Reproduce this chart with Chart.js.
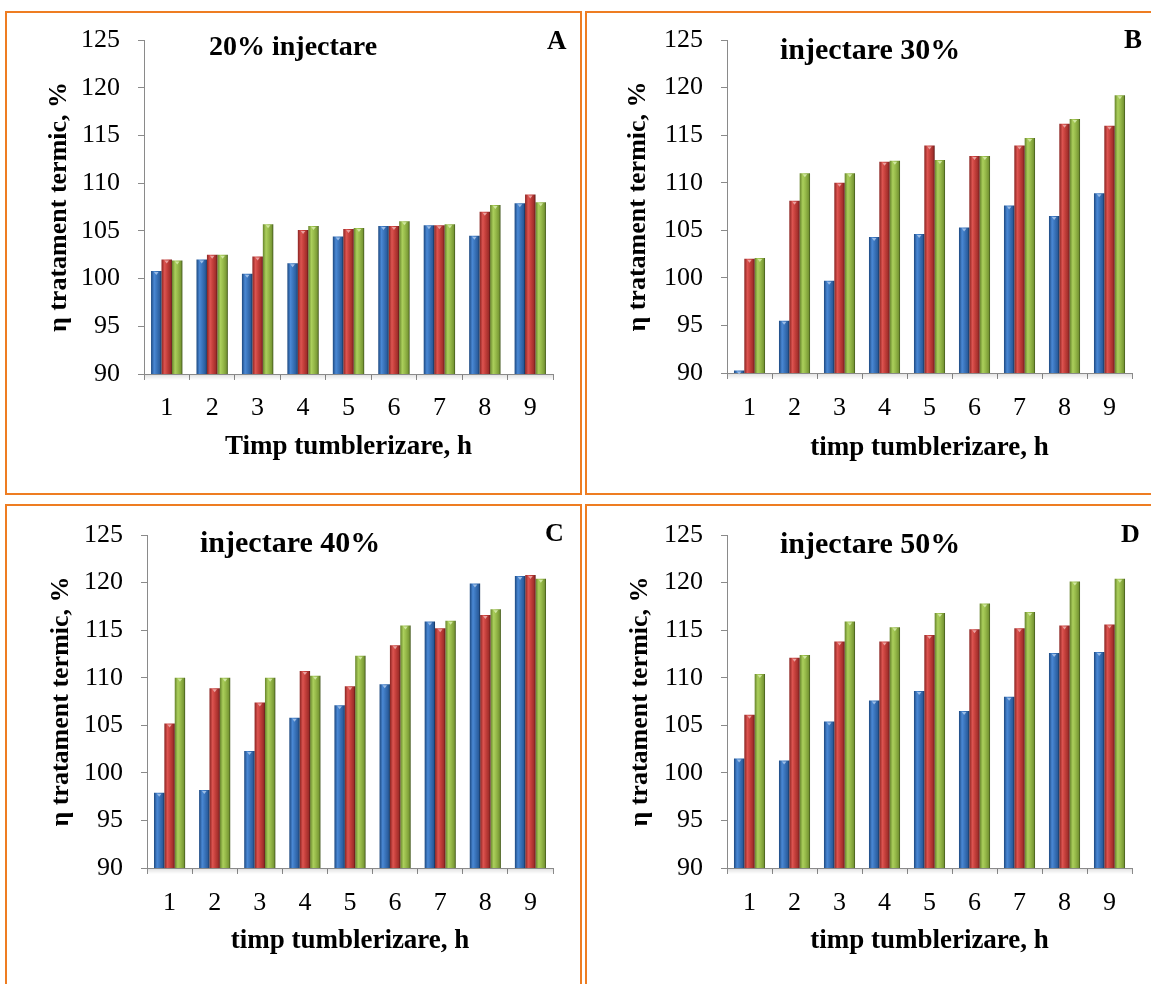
<!doctype html>
<html lang="ro">
<head>
<meta charset="utf-8">
<title>Randament tratament termic</title>
<script src="https://cdn.jsdelivr.net/npm/chart.js@4.4.0/dist/chart.umd.min.js"></script>
<style>
  html, body { margin: 0; padding: 0; background: #fff; overflow: hidden; }
  body { width: 1151px; height: 984px; position: relative; font-family: "Liberation Serif", serif; }
  .rama { position: absolute; border: 2px solid #ee7d22; box-sizing: border-box; }
  canvas { position: absolute; }
  .titlu { position: absolute; font-weight: bold; line-height: 1; white-space: nowrap; color: #000; }
</style>
</head>
<body>

<div class="rama" style="left:5px;top:11px;width:577px;height:484px"></div>
<div class="rama" style="left:585px;top:11px;width:600px;height:484px"></div>
<div class="rama" style="left:5px;top:504px;width:577px;height:520px"></div>
<div class="rama" style="left:585px;top:504px;width:600px;height:520px"></div>

<canvas id="g20"></canvas>
<canvas id="g30"></canvas>
<canvas id="g40"></canvas>
<canvas id="g50"></canvas>

<div class="titlu" style="left:209px;top:32px;font-size:28px">20% injectare</div>
<div class="titlu" style="left:547px;top:27px;font-size:27px">A</div>
<div class="titlu" style="left:780px;top:34px;font-size:30px">injectare 30%</div>
<div class="titlu" style="left:1124px;top:26px;font-size:27px">B</div>
<div class="titlu" style="left:200px;top:527px;font-size:30px">injectare 40%</div>
<div class="titlu" style="left:545px;top:520px;font-size:26px">C</div>
<div class="titlu" style="left:780px;top:528px;font-size:30px">injectare 50%</div>
<div class="titlu" style="left:1121px;top:521px;font-size:26px">D</div>

<script>
// ore de tumblerizare si valorile axei y
var ore = ['1', '2', '3', '4', '5', '6', '7', '8', '9'];
var valoriY = [90, 95, 100, 105, 110, 115, 120, 125];

// injectare 20%
var inj20_s1 = [100.8, 102.0, 100.5, 101.6, 104.4, 105.5, 105.6, 104.5, 107.9];
var inj20_s2 = [102.0, 102.5, 102.3, 105.1, 105.2, 105.5, 105.6, 107.0, 108.8];
var inj20_s3 = [101.9, 102.5, 105.7, 105.5, 105.3, 106.0, 105.7, 107.7, 108.0];

// injectare 30%
var inj30_s1 = [90.25, 95.5, 99.7, 104.3, 104.6, 105.3, 107.6, 106.5, 108.9];
var inj30_s2 = [102.0, 108.1, 110.0, 112.2, 113.9, 112.8, 113.9, 116.2, 116.0];
var inj30_s3 = [102.1, 111.0, 111.0, 112.3, 112.4, 112.8, 114.7, 116.7, 119.2];

// injectare 40%
var inj40_s1 = [97.9, 98.2, 102.3, 105.8, 107.1, 109.3, 115.9, 119.9, 120.7];
var inj40_s2 = [105.2, 108.9, 107.4, 110.7, 109.1, 113.4, 115.2, 116.6, 120.8];
var inj40_s3 = [110.0, 110.0, 110.0, 110.2, 112.3, 115.5, 116.0, 117.2, 120.4];

// injectare 50%
var inj50_s1 = [101.5, 101.3, 105.4, 107.6, 108.6, 106.5, 108.0, 112.6, 112.7];
var inj50_s2 = [106.1, 112.1, 113.8, 113.8, 114.5, 115.1, 115.2, 115.5, 115.6];
var inj50_s3 = [110.4, 112.4, 115.9, 115.3, 116.8, 117.8, 116.9, 120.1, 120.4];

// culori (stil Excel 2007, coloane cilindrice)
var nuante = [
    { baza: '#4f81bd', capac: '#9cbde6', stops: ['#1c4880', '#4a88d4', '#3a74bb', '#2a5c9c', '#132f55'] },
    { baza: '#c0504d', capac: '#eaa19f', stops: ['#8a2321', '#dc5450', '#c43f3b', '#a02e2b', '#5a1514'] },
    { baza: '#9bbb59', capac: '#d0e6a0', stops: ['#66832b', '#abcf5c', '#97ba4a', '#7a9a36', '#3d5218'] }
];

var FONT = '"Liberation Serif", serif';

// umbrire orizontala pe fiecare coloana + varful tesit
var umbra = {
    id: 'umbra',
    beforeDatasetsDraw: function (chart) {
        var ctx = chart.ctx;
        chart.data.datasets.forEach(function (ds, i) {
            var st = nuante[i].stops;
            chart.getDatasetMeta(i).data.forEach(function (bar) {
                var x0 = bar.x - bar.width / 2, x1 = bar.x + bar.width / 2;
                var g = ctx.createLinearGradient(x0, 0, x1, 0);
                g.addColorStop(0, st[0]);
                g.addColorStop(0.3, st[1]);
                g.addColorStop(0.55, st[2]);
                g.addColorStop(0.85, st[3]);
                g.addColorStop(1, st[4]);
                bar.options.backgroundColor = g;
            });
        });
    },
    afterDatasetsDraw: function (chart) {
        var ctx = chart.ctx;
        ctx.save();
        chart.data.datasets.forEach(function (ds, i) {
            ctx.fillStyle = nuante[i].capac;
            chart.getDatasetMeta(i).data.forEach(function (bar) {
                var w = bar.width;
                ctx.beginPath();
                ctx.moveTo(bar.x - w * 0.22, bar.y + 1);
                ctx.lineTo(bar.x + w * 0.22, bar.y + 1);
                ctx.lineTo(bar.x, bar.y + 4);
                ctx.closePath();
                ctx.fill();
            });
        });
        // umbra fina sub axa x
        var a = chart.chartArea;
        var g = ctx.createLinearGradient(0, a.bottom, 0, a.bottom + 6);
        g.addColorStop(0, 'rgba(0,0,0,0.13)');
        g.addColorStop(1, 'rgba(0,0,0,0)');
        ctx.fillStyle = g;
        ctx.fillRect(a.left + 1, a.bottom + 1, a.right - a.left - 1, 6);
        ctx.restore();
    }
};

function grafic(id, s1, s2, s3, titluX, p) {
    var cv = document.getElementById(id);
    cv.width = p.cw;
    cv.height = p.ch;
    cv.style.left = p.cx + 'px';
    cv.style.top = p.cy + 'px';

    var lhX = 27 * 1.2, lhY = 26 * 1.2, lhT = 26 * 1.2;
    var serii = [s1, s2, s3].map(function (d, i) {
        return {
            data: d,
            backgroundColor: function () { return nuante[i].baza; },
            borderWidth: 0,
            categoryPercentage: 0.69,
            barPercentage: 1.0
        };
    });

    return new Chart(cv, {
        type: 'bar',
        data: { labels: ore, datasets: serii },
        plugins: [umbra],
        options: {
            responsive: false,
            animation: false,
            events: [],
            layout: {
                padding: {
                    left: 0,
                    top: p.t - p.cy,
                    right: p.cx + p.cw - p.r,
                    bottom: p.cy + p.ch - (p.xt + lhX / 2)
                }
            },
            plugins: { legend: { display: false }, tooltip: { enabled: false } },
            scales: {
                x: {
                    grid: { drawOnChartArea: false, tickLength: 6, color: '#8a8a8a', offset: true },
                    border: { color: '#8a8a8a', width: 1 },
                    ticks: { color: '#000', font: { family: FONT, size: 26 }, padding: p.xl - p.b - 6 - lhT / 2 },
                    title: { display: true, text: titluX, color: '#000', padding: 0,
                             font: { family: FONT, size: 27, weight: 'bold' } },
                    afterFit: function (s) { s.height = p.xt + lhX / 2 - p.b; }
                },
                y: {
                    min: 90,
                    max: 125,
                    afterBuildTicks: function (s) { s.ticks = valoriY.map(function (v) { return { value: v }; }); },
                    grid: { drawOnChartArea: false, tickLength: 6, color: '#8a8a8a' },
                    border: { color: '#8a8a8a', width: 1 },
                    ticks: { color: '#000', font: { family: FONT, size: 26 }, padding: 18 },
                    title: { display: true, text: 'η tratament termic, %', color: '#000',
                             padding: { top: p.yt - p.cx - lhY / 2, bottom: 0 },
                             font: { family: FONT, size: 26, weight: 'bold' } },
                    afterFit: function (s) { s.width = p.l - p.cx; }
                }
            }
        }
    });
}

grafic('g20', inj20_s1, inj20_s2, inj20_s3, 'Timp tumblerizare, h',
    { cx: 0, cy: 0, cw: 582, ch: 495, l: 144, t: 40, r: 553, b: 374, yt: 59, xt: 447, xl: 408 });
grafic('g30', inj30_s1, inj30_s2, inj30_s3, 'timp tumblerizare, h',
    { cx: 582, cy: 0, cw: 569, ch: 495, l: 727, t: 40, r: 1132, b: 373, yt: 638, xt: 448, xl: 408 });
grafic('g40', inj40_s1, inj40_s2, inj40_s3, 'timp tumblerizare, h',
    { cx: 0, cy: 497, cw: 582, ch: 487, l: 147, t: 535, r: 553, b: 868, yt: 61, xt: 941, xl: 903 });
grafic('g50', inj50_s1, inj50_s2, inj50_s3, 'timp tumblerizare, h',
    { cx: 582, cy: 497, cw: 569, ch: 487, l: 727, t: 535, r: 1132, b: 868, yt: 640, xt: 941, xl: 903 });
</script>

</body>
</html>
